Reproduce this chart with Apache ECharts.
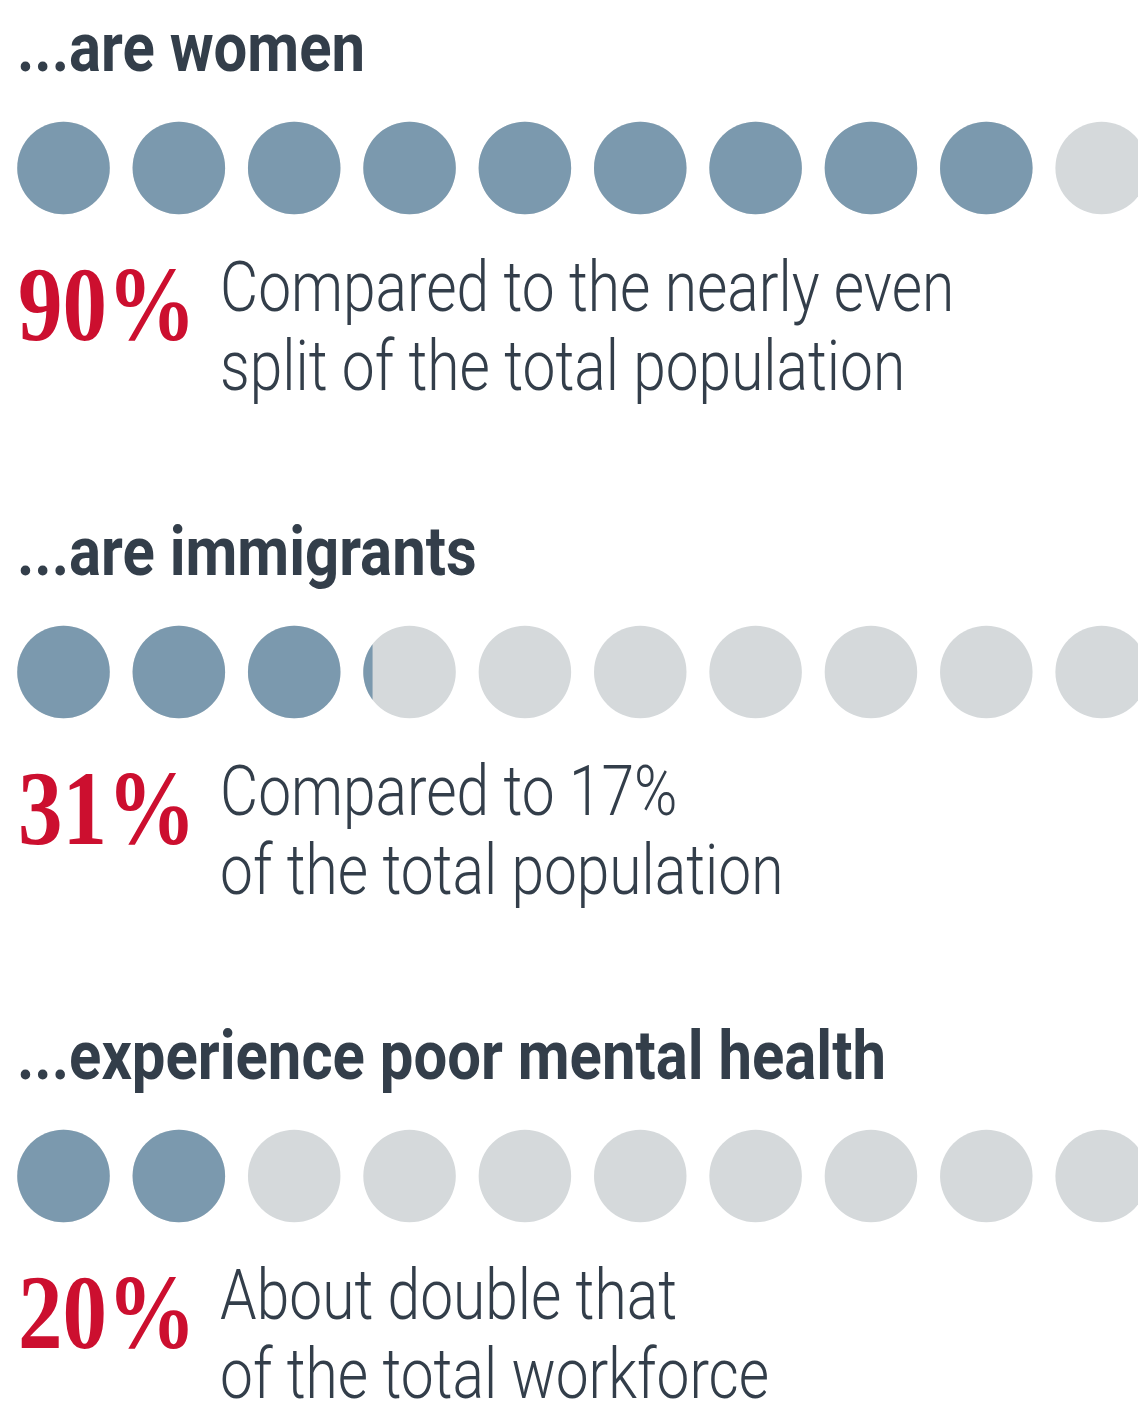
<!DOCTYPE html>
<html>
<head>
<meta charset="utf-8">
<script src="https://cdn.jsdelivr.net/npm/echarts@6/dist/echarts.min.js"></script>
<style>
  html, body { margin: 0; padding: 0; background: #ffffff; }
  #chart { width: 1138px; height: 1426px; }
</style>
</head>
<body>
<div id="chart"></div>
<script>
// Each row: a headline, a share out of 100 shown as ten dots, and a two-line note.
const headlines = ['...are women', '...are immigrants', '...experience poor mental health'];
const shares = [90, 31, 20];
const noteFirstLines = ['Compared to the nearly even', 'Compared to 17%', 'About double that'];
const noteSecondLines = ['split of the total population', 'of the total population', 'of the total workforce'];
const DOT_COUNT = 10;

const INK = '#333e4a';
const RED = '#cc0f2f';
const DOT_ON = '#7b99ae';
const DOT_OFF = '#d5d9db';

// font, horizontal squeeze, and baseline-to-middle offset (em) for each text style
const HEAD = { font: 'bold 68px Roboto, "DejaVu Sans", sans-serif', sx: 0.88, mid: 0.26 };
const PCT = { font: 'bold 106px "Liberation Serif", "DejaVu Serif", serif', sx: 0.84, mid: 0.255 };
const NOTE = { font: '300 70px Roboto, "DejaVu Sans", sans-serif', sx: 0.838, mid: 0.23 };

// layout of the dot grid (pixels)
const CHART_W = 1138, CHART_H = 1426;
const DOT_STEP = 115.35;      // horizontal distance between dot centres
const ROW_STEP = 504;         // vertical distance between rows
const FIRST_DOT_X = 63.5;
const FIRST_ROW_Y = 168;
const GRID_LEFT = FIRST_DOT_X - DOT_STEP / 2;

// one item per dot: [slot centre, row, filled fraction of that dot]
const dotData = [];
shares.forEach((v, row) => {
  for (let i = 0; i < DOT_COUNT; i++) {
    const frac = Math.max(0, Math.min(1, v / (100 / DOT_COUNT) - i));
    dotData.push([i + 0.5, row, frac]);
  }
});

const measureCtx = document.createElement('canvas').getContext('2d');
function textWidth(str, font) {
  measureCtx.font = font;
  return measureCtx.measureText(str).width;
}
function sizeOf(font) { return parseFloat(font.match(/(\d+(\.\d+)?)px/)[1]); }

function textEl(str, x, baseline, st, fill) {
  return {
    type: 'text',
    x: x,
    y: baseline - st.mid * sizeOf(st.font),
    scaleX: st.sx,
    style: {
      text: str, x: 0, y: 0, font: st.font, fill: fill,
      textAlign: 'left', textVerticalAlign: 'middle',
      align: 'left', verticalAlign: 'middle'
    }
  };
}

function renderDot(params, api) {
  const c = api.coord([api.value(0), api.value(1)]);
  const step = api.size([1, 0])[0];
  const r = step * 0.401;
  const f = api.value(2);
  const kids = [{ type: 'circle', shape: { cx: c[0], cy: c[1], r: r }, style: { fill: DOT_OFF } }];
  if (f >= 1) {
    kids.push({ type: 'circle', shape: { cx: c[0], cy: c[1], r: r }, style: { fill: DOT_ON } });
  } else if (f > 0) {
    // left-hand circular segment covering the fraction f of the dot's width
    const a = Math.acos(1 - 2 * f);
    const pts = [];
    const n = 40;
    for (let j = 0; j <= n; j++) {
      const t = -a + (2 * a * j) / n;
      pts.push([c[0] - r * Math.cos(t), c[1] + r * Math.sin(t)]);
    }
    kids.push({ type: 'polygon', shape: { points: pts }, style: { fill: DOT_ON } });
  }
  return { type: 'group', children: kids };
}

function renderRowText(params, api) {
  const row = api.value(1);
  const cy = api.coord([0, row])[1];
  const pct = shares[row] + '%';
  const pctX = 18;
  const pctW = textWidth(pct, PCT.font) * PCT.sx;
  const noteX = pctX + pctW + 24;
  return {
    type: 'group',
    children: [
      textEl(headlines[row], 17, cy - 96, HEAD, INK),
      textEl(pct, pctX, cy + 172, PCT, RED),
      textEl(noteFirstLines[row], noteX, cy + 141.5, NOTE, INK),
      textEl(noteSecondLines[row], noteX, cy + 220.5, NOTE, INK)
    ]
  };
}

const yMin = -FIRST_ROW_Y / ROW_STEP;
const chart = echarts.init(document.getElementById('chart'), null, { renderer: 'canvas' });
chart.setOption({
  animation: false,
  backgroundColor: '#ffffff',
  grid: { left: GRID_LEFT, top: 0, width: CHART_W - GRID_LEFT, height: CHART_H },
  xAxis: { type: 'value', min: 0, max: (CHART_W - GRID_LEFT) / DOT_STEP, show: false },
  yAxis: { type: 'value', min: yMin, max: yMin + CHART_H / ROW_STEP, inverse: true, show: false },
  series: [
    { type: 'custom', renderItem: renderDot, data: dotData, silent: true, clip: false },
    { type: 'custom', renderItem: renderRowText, data: shares.map((v, row) => [0, row]), silent: true, clip: false }
  ]
});
</script>
</body>
</html>
